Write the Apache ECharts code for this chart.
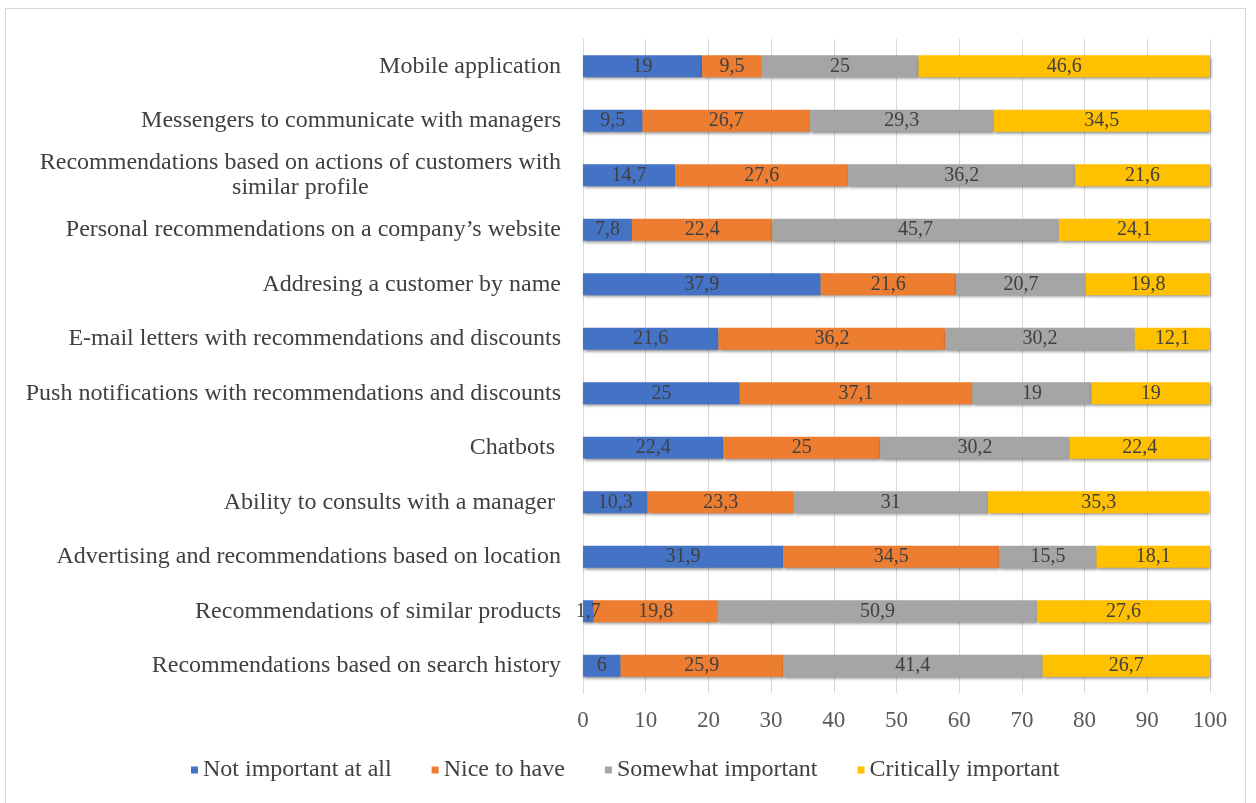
<!DOCTYPE html>
<html>
<head>
<meta charset="utf-8">
<script src="https://cdn.jsdelivr.net/npm/echarts@6/dist/echarts.min.js"></script>
<style>
html,body{margin:0;padding:0;background:#fff;overflow:hidden;}
#frame{position:absolute;left:5px;top:8px;width:1241px;height:820px;border:1.5px solid #d9d9d9;box-sizing:border-box;}
#chart{position:absolute;left:0;top:0;width:1256px;height:803px;}
</style>
</head>
<body>
<div id="frame"></div>
<div id="chart"></div>
<script>
const categories = [
  "Mobile application",
  "Messengers to communicate with managers",
  "Recommendations based on actions of customers with\nsimilar profile",
  "Personal recommendations on a company\u2019s website",
  "Addresing a customer by name",
  "E-mail letters with recommendations and discounts",
  "Push notifications with recommendations and discounts",
  "Chatbots ",
  "Ability to consults with a manager ",
  "Advertising and recommendations based on location",
  "Recommendations of similar products",
  "Recommendations based on search history"
];
const seriesNames = ["Not important at all", "Nice to have", "Somewhat important", "Critically important"];
const notImportant = [19, 9.5, 14.7, 7.8, 37.9, 21.6, 25, 22.4, 10.3, 31.9, 1.7, 6];
const niceToHave = [9.5, 26.7, 27.6, 22.4, 21.6, 36.2, 37.1, 25, 23.3, 34.5, 19.8, 25.9];
const somewhatImportant = [25, 29.3, 36.2, 45.7, 20.7, 30.2, 19, 30.2, 31, 15.5, 50.9, 41.4];
const criticallyImportant = [46.6, 34.5, 21.6, 24.1, 19.8, 12.1, 19, 22.4, 35.3, 18.1, 27.6, 26.7];
const colors = ["#4472C4", "#ED7D31", "#A5A5A5", "#FFC000"];
const values = [notImportant, niceToHave, somewhatImportant, criticallyImportant];

const font = "'Liberation Serif', 'Times New Roman', serif";
const chart = echarts.init(document.getElementById('chart'));
chart.setOption({
  animation: false,
  color: colors,
  grid: { left: 583, right: 46, top: 39, bottom: 110, containLabel: false },
  xAxis: {
    type: 'value', min: 0, max: 100, interval: 10,
    axisLine: { show: false }, axisTick: { show: false },
    splitLine: { show: true, lineStyle: { color: '#d9d9d9', width: 1 } },
    axisLabel: { color: '#595959', fontFamily: font, fontSize: 23, margin: 16 }
  },
  yAxis: {
    type: 'category', inverse: true, data: categories,
    axisLine: { show: true, lineStyle: { color: '#d9d9d9' } },
    axisTick: { show: false },
    axisLabel: {
      color: '#404040', fontFamily: font, fontSize: 24, margin: 22, lineHeight: 25,
      formatter: function (v) {
        if (v.indexOf('\n') >= 0) {
          return v.split('\n').map(s => '{c|' + s + '}').join('\n');
        }
        return v;
      },
      rich: { c: { align: 'center', fontFamily: font, fontSize: 24, color: '#404040', lineHeight: 25 } }
    }
  },
  legend: {
    bottom: 21, left: 191, padding: 0,
    itemWidth: 7, itemHeight: 7, itemGap: 40, icon: 'rect',
    textStyle: { color: '#404040', fontFamily: font, fontSize: 24 },
    data: seriesNames
  },
  series: seriesNames.map((name, i) => ({
    name: name, type: 'bar', stack: 'total', barWidth: 22,
    data: values[i],
    itemStyle: { color: colors[i], shadowColor: 'rgba(0,0,0,0.45)', shadowBlur: 3, shadowOffsetX: 1, shadowOffsetY: 2 },
    label: {
      show: true, position: 'inside', color: '#404040', fontFamily: font, fontSize: 20,
      formatter: p => String(p.value).replace('.', ',')
    }
  }))
});
</script>
</body>
</html>
